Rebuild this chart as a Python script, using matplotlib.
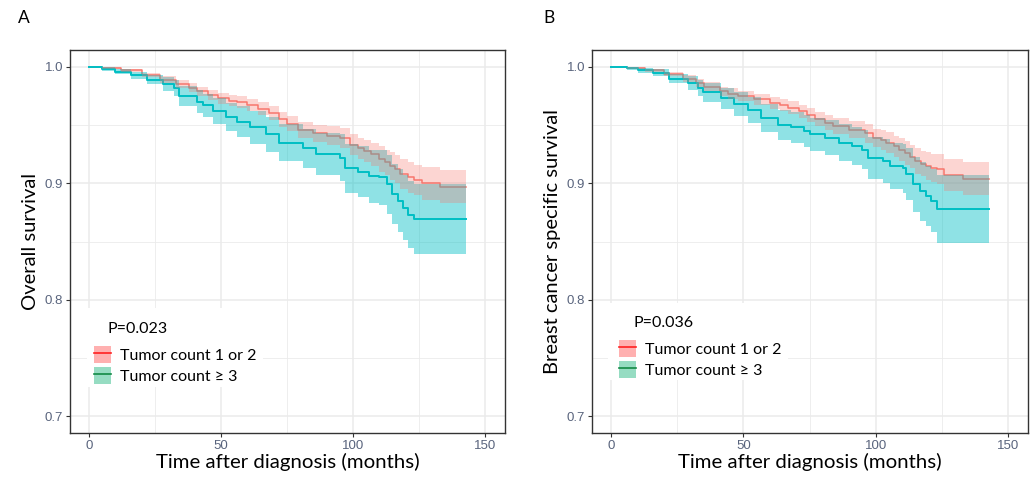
import numpy as np
import matplotlib
matplotlib.use("Agg")
import matplotlib.pyplot as plt
from matplotlib.patches import Patch, Rectangle
from matplotlib.lines import Line2D

plt.rcParams['font.family'] = ['Lato', 'DejaVu Sans']

END_TIME = 143

# Panel A - overall survival, tumor count 1 or 2
os_t1 = [0, 5, 12, 20, 27, 33, 38, 41, 45, 49, 53, 56, 60, 64, 68, 72, 75, 79, 85, 90, 95, 99, 102, 104, 107, 110, 112, 114, 116, 118, 121, 123, 126, 133]
os_s1 = [1.0, 0.999, 0.997, 0.993, 0.989, 0.985, 0.982, 0.979, 0.976, 0.973, 0.971, 0.970, 0.967, 0.964, 0.960, 0.955, 0.951, 0.946, 0.943, 0.941, 0.939, 0.933, 0.930, 0.928, 0.925, 0.921, 0.918, 0.915, 0.912, 0.908, 0.905, 0.903, 0.900, 0.897]
os_lo1 = [1.0, 0.998, 0.9955, 0.991, 0.986, 0.9815, 0.978, 0.975, 0.9715, 0.9685, 0.966, 0.965, 0.962, 0.9585, 0.954, 0.9485, 0.9445, 0.939, 0.9355, 0.933, 0.9305, 0.924, 0.921, 0.9185, 0.915, 0.910, 0.907, 0.903, 0.900, 0.8955, 0.892, 0.890, 0.886, 0.883]
os_hi1 = [1.0, 1.0, 0.9985, 0.995, 0.992, 0.9885, 0.986, 0.983, 0.9805, 0.9775, 0.976, 0.975, 0.972, 0.9695, 0.966, 0.9615, 0.9575, 0.953, 0.9505, 0.949, 0.9475, 0.942, 0.939, 0.9375, 0.935, 0.932, 0.929, 0.927, 0.924, 0.9205, 0.918, 0.916, 0.914, 0.911]

# Panel A - overall survival, tumor count >= 3
os_t2 = [0, 5, 10, 16, 22, 28, 32, 34, 41, 43, 47, 52, 56, 61, 67, 72, 81, 86, 95, 97, 102, 106, 110, 112.8, 114.7, 117, 119, 121, 123]
os_s2 = [1.0, 0.998, 0.996, 0.993, 0.989, 0.985, 0.982, 0.975, 0.970, 0.967, 0.962, 0.957, 0.953, 0.948, 0.942, 0.935, 0.930, 0.925, 0.922, 0.913, 0.910, 0.906, 0.905, 0.899, 0.891, 0.885, 0.879, 0.873, 0.869]
os_lo2 = [1.0, 0.9965, 0.994, 0.990, 0.985, 0.979, 0.975, 0.966, 0.960, 0.957, 0.951, 0.945, 0.940, 0.934, 0.927, 0.919, 0.913, 0.907, 0.902, 0.892, 0.888, 0.883, 0.881, 0.874, 0.865, 0.858, 0.851, 0.844, 0.839]
os_hi2 = [1.0, 0.9995, 0.998, 0.996, 0.993, 0.991, 0.989, 0.984, 0.980, 0.977, 0.973, 0.969, 0.966, 0.962, 0.957, 0.951, 0.947, 0.943, 0.942, 0.934, 0.932, 0.929, 0.929, 0.924, 0.917, 0.912, 0.907, 0.902, 0.899]

# Panel B - breast cancer specific survival, tumor count 1 or 2
bc_t1 = [0, 6, 13, 20, 27, 32, 35, 41, 44, 48, 54, 60, 64, 67, 71, 74, 77, 81, 84, 90, 96, 99, 102, 104, 107, 109, 111, 113, 115, 117, 119, 121, 123, 126, 133]
bc_s1 = [1.0, 0.999, 0.997, 0.994, 0.990, 0.986, 0.983, 0.979, 0.977, 0.975, 0.972, 0.969, 0.967, 0.965, 0.962, 0.959, 0.955, 0.952, 0.949, 0.946, 0.943, 0.939, 0.937, 0.935, 0.932, 0.929, 0.926, 0.923, 0.919, 0.917, 0.915, 0.913, 0.912, 0.907, 0.904]
bc_lo1 = [1.0, 0.998, 0.9955, 0.992, 0.987, 0.9825, 0.979, 0.975, 0.9725, 0.9705, 0.967, 0.964, 0.962, 0.9595, 0.9565, 0.953, 0.949, 0.9455, 0.942, 0.9385, 0.935, 0.931, 0.9285, 0.926, 0.923, 0.9195, 0.916, 0.913, 0.908, 0.906, 0.903, 0.901, 0.899, 0.893, 0.890]
bc_hi1 = [1.0, 1.0, 0.9985, 0.996, 0.993, 0.9895, 0.987, 0.983, 0.9815, 0.9795, 0.977, 0.974, 0.972, 0.9705, 0.9675, 0.965, 0.961, 0.9585, 0.956, 0.9535, 0.951, 0.947, 0.9455, 0.944, 0.941, 0.9385, 0.936, 0.933, 0.930, 0.928, 0.927, 0.925, 0.925, 0.921, 0.918]

# Panel B - breast cancer specific survival, tumor count >= 3
bc_t2 = [0, 6, 10, 16, 22, 29, 32.7, 34.6, 41.5, 46.6, 51.6, 56.7, 63, 68, 73, 75, 81, 86, 91, 95, 97, 102.8, 105.3, 110.3, 111.6, 114.1, 116.7, 119.2, 121.1, 123]
bc_s2 = [1.0, 0.999, 0.997, 0.995, 0.990, 0.986, 0.982, 0.978, 0.973, 0.968, 0.963, 0.956, 0.950, 0.948, 0.945, 0.942, 0.939, 0.935, 0.932, 0.929, 0.922, 0.919, 0.915, 0.913, 0.908, 0.899, 0.893, 0.889, 0.885, 0.878]
bc_lo2 = [1.0, 0.9975, 0.995, 0.992, 0.986, 0.980, 0.975, 0.970, 0.964, 0.958, 0.952, 0.944, 0.937, 0.935, 0.931, 0.928, 0.924, 0.919, 0.916, 0.912, 0.904, 0.900, 0.895, 0.892, 0.886, 0.875, 0.868, 0.863, 0.858, 0.849]
bc_hi2 = [1.0, 1.0, 0.999, 0.998, 0.994, 0.992, 0.989, 0.986, 0.982, 0.978, 0.974, 0.968, 0.963, 0.961, 0.959, 0.956, 0.954, 0.951, 0.948, 0.946, 0.940, 0.938, 0.935, 0.934, 0.930, 0.923, 0.918, 0.915, 0.912, 0.907]

group_labels = ['Tumor count 1 or 2', 'Tumor count \u2265 3']
p_values = ['P=0.023', 'P=0.036']
y_labels = ['Overall survival', 'Breast cancer specific survival']
panel_letters = ['A', 'B']

RED = '#F8766D'
CYAN = '#00BFC4'
TICK_COL = '#59647d'


def extend(v):
    # carry the last value out to the end of follow-up
    return list(v) + [v[-1]]


def km_panel(ax, g1, g2, ylab, pval, leg_at):
    t1, s1, lo1, hi1 = g1
    t2, s2, lo2, hi2 = g2
    tt1 = list(t1) + [END_TIME]
    tt2 = list(t2) + [END_TIME]
    ax.step(tt1, extend(s1), where='post', color=RED, lw=1.1, zorder=3)
    ax.step(tt2, extend(s2), where='post', color=CYAN, lw=1.4, zorder=3)
    ax.fill_between(tt2, extend(lo2), extend(hi2), step='post', color=CYAN,
                    alpha=0.44, lw=0, zorder=4)
    ax.fill_between(tt1, extend(lo1), extend(hi1), step='post', color=RED,
                    alpha=0.3, lw=0, zorder=5)

    ax.set_xlim(-7.2, 157.6)
    ax.set_ylim(0.6855, 1.0145)
    ax.set_xticks([0, 50, 100, 150])
    ax.set_xticks([25, 75, 125], minor=True)
    ax.set_yticks([0.7, 0.8, 0.9, 1.0])
    ax.set_yticklabels(['0.7', '0.8', '0.9', '1.0'])
    ax.set_yticks([0.75, 0.85, 0.95], minor=True)
    ax.grid(which='major', color='#EBEBEB', lw=1.1, zorder=0)
    ax.grid(which='minor', color='#EBEBEB', lw=0.6, zorder=0)
    ax.set_axisbelow(True)
    ax.tick_params(which='major', length=3, width=0.8, color='#333333',
                   labelsize=9.5, labelcolor=TICK_COL, pad=2)
    ax.tick_params(which='minor', length=0)
    for lab in ax.get_xticklabels() + ax.get_yticklabels():
        lab.set_family(['Liberation Sans', 'DejaVu Sans'])
    for sp in ax.spines.values():
        sp.set_color('#333333')
        sp.set_linewidth(1.0)

    ax.set_xlabel('Time after diagnosis (months)', fontsize=14.7, labelpad=1)
    ax.set_ylabel(ylab, fontsize=14.5, labelpad=4)

    # legend: white background box, p-value title, two keys
    bx0, by0, bx1, by1, tx, ty, kx, ky = leg_at
    ax.add_patch(Rectangle((bx0, by0), bx1 - bx0, by1 - by0, transform=ax.transAxes,
                           facecolor='white', edgecolor='none', zorder=6))
    ax.text(tx, ty, pval, transform=ax.transAxes, fontsize=11.5, va='center',
            ha='left', zorder=7)
    handles = [(Patch(facecolor='#FFB0B0', edgecolor='none'), Line2D([], [], color='#FF2020', lw=1.2)),
               (Patch(facecolor='#96DCC2', edgecolor='none'), Line2D([], [], color='#138A45', lw=1.2))]
    leg = ax.legend(handles, group_labels, loc='lower left',
                    bbox_to_anchor=(kx, ky), fontsize=11.5, frameon=False,
                    handlelength=1.06, handleheight=1.2, handletextpad=0.55,
                    labelspacing=0.28, borderpad=0, borderaxespad=0)
    leg.set_zorder(7)


fig = plt.figure(figsize=(10.3, 4.79), dpi=100)
ax_a = fig.add_axes([0.068, 0.096, 0.4223, 0.7996])
ax_b = fig.add_axes([0.5748, 0.096, 0.4233, 0.7996])

km_panel(ax_a, (os_t1, os_s1, os_lo1, os_hi1), (os_t2, os_s2, os_lo2, os_hi2), y_labels[0], p_values[0],
         (0.039, 0.120, 0.444, 0.326, 0.087, 0.2715, 0.055, 0.128))
km_panel(ax_b, (bc_t1, bc_s1, bc_lo1, bc_hi1), (bc_t2, bc_s2, bc_lo2, bc_hi2), y_labels[1], p_values[1],
         (0.037, 0.138, 0.450, 0.339, 0.094, 0.287, 0.062, 0.144))

fig.text(0.0175, 0.962, panel_letters[0], fontsize=12.5, va='center', ha='left')
fig.text(0.528, 0.962, panel_letters[1], fontsize=12.5, va='center', ha='left')

fig.savefig('out.png', dpi=100, facecolor='white')
